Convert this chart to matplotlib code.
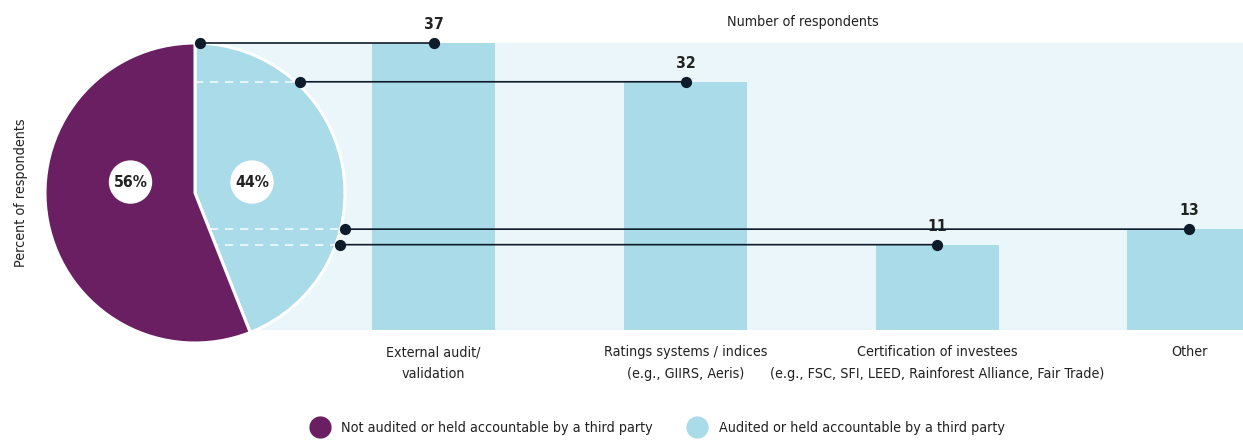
import numpy as np
import matplotlib.pyplot as plt
from matplotlib.lines import Line2D
from matplotlib.patches import Circle, ConnectionPatch

plt.rcParams['font.family'] = ['DejaVu Sans']
plt.rcParams['font.stretch'] = 'condensed'

# share of respondents
pie_labels = ['Audited or held accountable by a third party',
              'Not audited or held accountable by a third party']
pie_values = [44, 56]

# methods used by the audited group
categories = ['External audit/\nvalidation',
              'Ratings systems / indices\n(e.g., GIIRS, Aeris)',
              'Certification of investees\n(e.g., FSC, SFI, LEED, Rainforest Alliance, Fair Trade)',
              'Other']
counts = [37, 32, 11, 13]

PURPLE = '#6b1f63'
BLUE = '#a9dbe8'
BAND = '#eaf6f9'
DARK = '#0d1b2a'
TEXT = '#222222'
FS = 10.3

W, H = 1243, 441
fig = plt.figure(figsize=(W / 100, H / 100), dpi=100)

# bar panel, pale band behind the bars
bx0, bx1, by0, by1 = 197, 1243, 43, 330
ax = fig.add_axes([bx0 / W, 1 - by1 / H, (bx1 - bx0) / W, (by1 - by0) / H])
ax.set_facecolor(BAND)
x = np.arange(len(categories))
ax.bar(x, counts, width=0.49, color=BLUE, zorder=2)
ax.set_xlim(-0.94, 3.214)
ax.set_ylim(0, max(counts))
for s in ax.spines.values():
    s.set_visible(False)
ax.set_yticks([])
ax.set_xticks(x)
ax.set_xticklabels(categories, fontsize=FS, color=TEXT, linespacing=1.7)
ax.tick_params(axis='x', length=0, pad=11)
for xi, v in zip(x, counts):
    ax.annotate(str(v), (xi, v), xytext=(0, 8), textcoords='offset points',
                ha='center', va='bottom', fontsize=FS + 1, fontweight='bold',
                color=TEXT, annotation_clip=False)
ax.scatter(x, counts, s=50, color=DARK, zorder=5, clip_on=False)

fig.text(803 / W, 1 - 22 / H, 'Number of respondents', ha='center', va='center',
         fontsize=FS, color=TEXT)

# pie panel
cx, cy, r = 195, 193, 150
pax = fig.add_axes([(cx - r) / W, 1 - (cy + r) / H, 2 * r / W, 2 * r / H])
wedges, _ = pax.pie(pie_values, colors=[BLUE, PURPLE], startangle=90,
                    counterclock=False, radius=1,
                    wedgeprops=dict(edgecolor='white', linewidth=2.2))
pax.set_xlim(-1, 1)
pax.set_ylim(-1, 1)
pax.set_aspect('equal')
pax.axis('off')
for w in wedges:
    w.set_clip_on(False)

# percentage badges
for (px, py), v in zip([(0.38, 0.073), (-0.43, 0.073)], pie_values):
    pax.add_patch(Circle((px, py), 0.14, color='white', zorder=4))
    pax.text(px, py, f'{v}%', ha='center', va='center', fontsize=FS + 1,
             fontweight='bold', color=TEXT, zorder=5)

pax.text(-1.16, 0.0, 'Percent of respondents', rotation=90, ha='center',
         va='center', fontsize=FS, color=TEXT)

# connectors from the pie edge to each bar top
to_pie = pax.transData.inverted()
for xi, v in zip(x, counts):
    disp = ax.transData.transform((xi, v))
    yp = min(1.0, to_pie.transform(disp)[1])
    xp = np.sqrt(max(0.0, 1 - yp ** 2)) + 0.03
    dash, = pax.plot([0, xp], [yp, yp], color='white', lw=1.2,
                     ls=(0, (5, 4)), alpha=0.85, zorder=3)
    dash.set_clip_path(wedges[0])
    pax.scatter([xp], [yp], s=50, color=DARK, zorder=6, clip_on=False)
    con = ConnectionPatch(xyA=(xp, yp), coordsA=pax.transData,
                          xyB=(xi, v), coordsB=ax.transData,
                          color=DARK, lw=1.2)
    fig.add_artist(con)

handles = [Line2D([], [], marker='o', ls='none', markersize=15,
                  markerfacecolor=c, markeredgecolor=c) for c in (PURPLE, BLUE)]
fig.legend(handles, pie_labels[::-1], loc='center', ncol=2, frameon=False,
           bbox_to_anchor=(655 / W, 1 - 428 / H), fontsize=FS,
           handletextpad=0.5, columnspacing=2.1, labelcolor=TEXT)

fig.savefig('out.png', dpi=100)
